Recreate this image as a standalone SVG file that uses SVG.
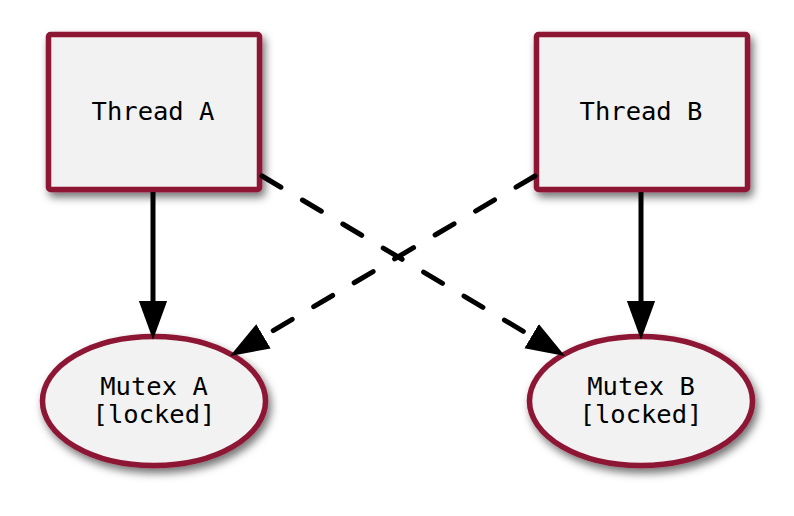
<svg xmlns="http://www.w3.org/2000/svg" width="794" height="516" viewBox="0 0 794 516">
<defs>
<filter id="sh" x="-20%" y="-20%" width="150%" height="150%">
<feDropShadow dx="3" dy="5" stdDeviation="4" flood-color="#000" flood-opacity="0.55"/>
</filter>
<marker id="ah" markerUnits="userSpaceOnUse" markerWidth="40" markerHeight="30" refX="0" refY="12" orient="auto" viewBox="0 0 34 24">
<path d="M0,0 L33,12 L0,24 Z" fill="#000"/>
</marker>
<style>
.node{fill:#f2f2f2;stroke:#8e1535;stroke-width:5.5;filter:url(#sh)}
.lbl{font-family:"DejaVu Sans Mono",monospace;font-size:25.5px;fill:#000;text-anchor:middle}
.e{stroke:#000;stroke-width:5;fill:none}
.d{stroke-dasharray:22 25;stroke-linecap:round}
</style>
</defs>
<rect width="794" height="516" fill="#fff"/>
<g id="threadA"><rect class="node" x="48.5" y="34.5" width="211" height="155" rx="2"/><text class="lbl" x="153" y="120">Thread A</text></g>
<g id="threadB"><rect class="node" x="536.5" y="34.5" width="211" height="155" rx="2"/><text class="lbl" x="641" y="120">Thread B</text></g>
<g id="mutexA"><ellipse class="node" cx="154" cy="401" rx="111.5" ry="64.5"/><text class="lbl" x="154" y="395">Mutex A</text><text class="lbl" x="154" y="423">[locked]</text></g>
<g id="mutexB"><ellipse class="node" cx="641" cy="401" rx="111.5" ry="64.5"/><text class="lbl" x="641" y="395">Mutex B</text><text class="lbl" x="641" y="423">[locked]</text></g>
<g id="connectors">
<line class="e" x1="153" y1="192" x2="153" y2="301" marker-end="url(#ah)"/>
<line class="e" x1="641" y1="192" x2="641" y2="301" marker-end="url(#ah)"/>
<line class="e d" x1="262" y1="176" x2="531.6" y2="336.2" marker-end="url(#ah)"/>
<line class="e d" x1="535" y1="176" x2="263.5" y2="336.3" marker-end="url(#ah)"/>
</g>
</svg>
